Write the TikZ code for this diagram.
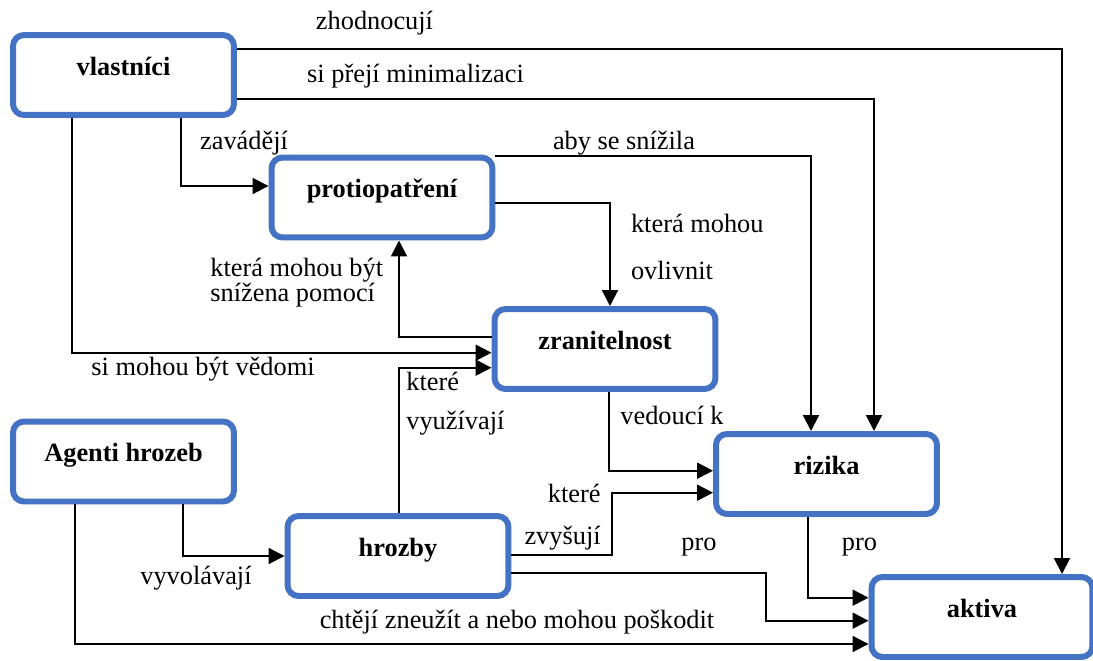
\documentclass[tikz,border=0pt]{standalone}
\usepackage{fontspec}
\setmainfont{Liberation Serif}
\usetikzlibrary{arrows.meta,calc}
\definecolor{boxblue}{RGB}{68,114,196}
\tikzset{
  box/.style={draw=boxblue, fill=white, line width=0.12cm, rounded corners=0.22cm,
    minimum width=4.42cm, minimum height=1.6cm, text height=1.5ex, text depth=1.5ex,
    font=\fontsize{15}{18}\selectfont\bfseries},
  conn/.style={line width=0.04cm, -{Triangle[length=0.32cm,width=0.32cm]}},
  lbl/.style={font=\fontsize{15}{18}\selectfont, inner sep=0pt}
}
\begin{document}
\begin{tikzpicture}[x=0.02cm,y=-0.02cm]
    \useasboundingbox (0,0) rectangle (1093,660);

    \node[box] (vl) at (123.5,75) {vlastníci};
    \node[box] (pr) at (382,197.5) {protiopatření};
    \node[box] (zr) at (605,349) {zranitelnost};
    \node[box] (ag) at (123.5,461.5) {Agenti hrozeb};
    \node[box] (hr) at (398,556) {hrozby};
    \node[box] (ri) at (826.5,474) {rizika};
    \node[box] (ak) at (982,617) {aktiva};

    \draw[conn] ($(vl.east)+(0,-26)$) -| ($(ak.north)+(80,0)$);
    \draw[conn] ($(vl.east)+(0,24)$) -| ($(ri.north)+(47.5,0)$);
    \draw[conn] ($(vl.south)+(57.5,0)$) |- ($(pr.west)+(0,-11.5)$);
    \draw[conn] ($(vl.south)+(-51.5,0)$) |- ($(zr.west)+(0,3.7)$);
    \draw[conn] ($(zr.west)+(0,-12.3)$) -| ($(pr.south)+(17,0)$);
    \draw[conn] ($(pr.east)+(0,5.5)$) -| ($(zr.north)+(5,0)$);
    \draw[conn] ($(pr.east)+(0,-41.5)$) -| ($(ri.north)+(-15.5,0)$);
    \draw[conn] ($(zr.south)+(4,0)$) |- ($(ri.west)+(0,-3.3)$);
    \draw[conn] ($(hr.north)+(1,0)$) |- ($(zr.west)+(0,18.7)$);
    \draw[conn] ($(hr.east)+(0,-1)$) -- ++(100.5,0) |- ($(ri.west)+(0,18.7)$);
    \draw[conn] ($(hr.east)+(0,16.7)$) -- ++(254.5,0) |- ($(ak.west)+(0,3.7)$);
    \draw[conn] ($(ri.south)+(-18.5,0)$) |- ($(ak.west)+(0,-19.3)$);
    \draw[conn] ($(ag.south)+(59,0)$) |- (hr.west);
    \draw[conn] ($(ag.south)+(-48.5,0)$) |- ($(ak.west)+(0,27)$);

    \node[lbl] at (374.5,22.7) {zhodnocují};
    \node[lbl] at (415.5,76) {si přejí minimalizaci};
    \node[lbl] at (244,143) {zavádějí};
    \node[lbl] at (624,143) {aby se snížila};
    \node[lbl, anchor=west] at (630.7,223) {která mohou};
    \node[lbl, anchor=west] at (630.7,270.7) {ovlivnit};
    \node[lbl, anchor=west, align=left, font=\fontsize{15}{14}\selectfont] at (210,282.5) {která mohou být\\snížena pomocí};
    \node[lbl] at (203,369) {si mohou být vědomi};
    \node[lbl, anchor=west] at (406,381) {které};
    \node[lbl, anchor=west] at (406,422.7) {využívají};
    \node[lbl] at (672,415) {vedoucí k};
    \node[lbl, anchor=east] at (601,493) {které};
    \node[lbl, anchor=east] at (601,538) {zvyšují};
    \node[lbl] at (699,547) {pro};
    \node[lbl] at (859.5,547) {pro};
    \node[lbl] at (196,578) {vyvolávají};
    \node[lbl] at (517,621.7) {chtějí zneužít a nebo mohou poškodit};
\end{tikzpicture}
\end{document}
